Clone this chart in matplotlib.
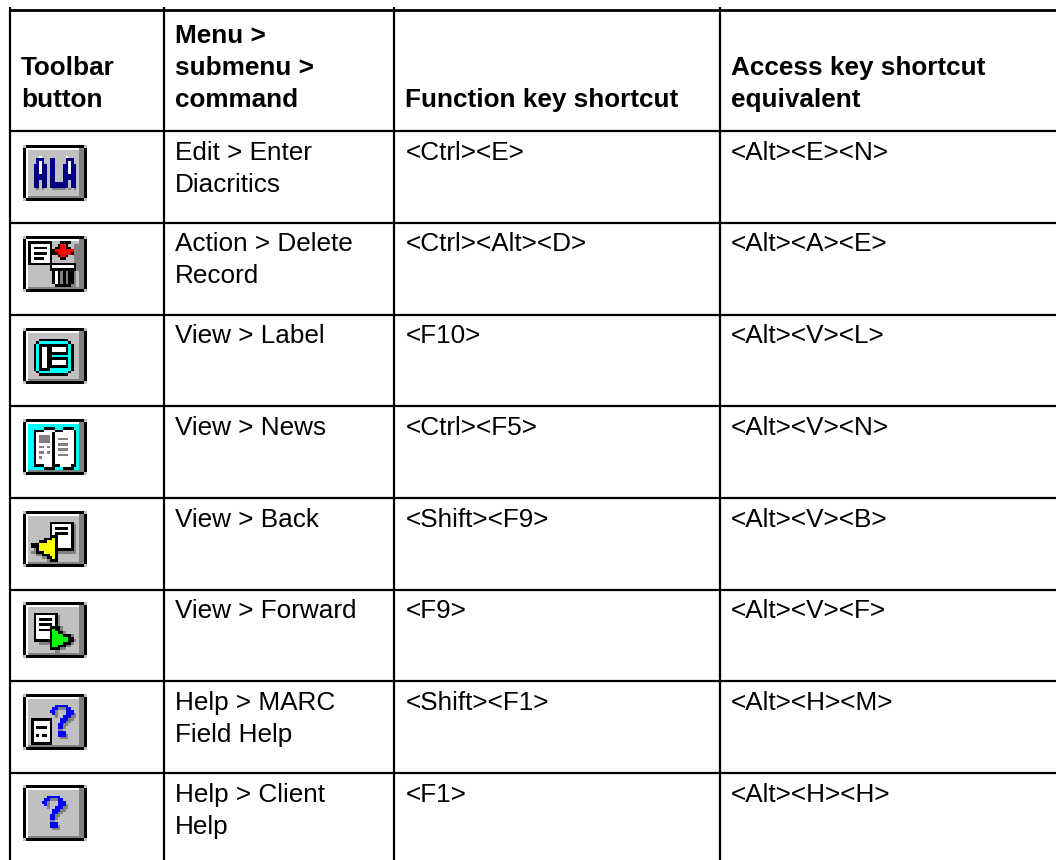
import numpy as np
import matplotlib
matplotlib.use("Agg")
import matplotlib.pyplot as plt

plt.rcParams['font.family'] = ['Liberation Sans', 'DejaVu Sans']

# table text
headers = ["Toolbar\nbutton", "Menu >\nsubmenu >\ncommand", "Function key shortcut", "Access key shortcut\nequivalent"]
menu_cmds = ["Edit > Enter\nDiacritics", "Action > Delete\nRecord", "View > Label", "View > News",
             "View > Back", "View > Forward", "Help > MARC\nField Help", "Help > Client\nHelp"]
fn_keys = ["<Ctrl><E>", "<Ctrl><Alt><D>", "<F10>", "<Ctrl><F5>", "<Shift><F9>", "<F9>", "<Shift><F1>", "<F1>"]
access_keys = ["<Alt><E><N>", "<Alt><A><E>", "<Alt><V><L>", "<Alt><V><N>",
               "<Alt><V><B>", "<Alt><V><F>", "<Alt><H><M>", "<Alt><H><H>"]

# grid lines, in pixels
col_x = [10, 164, 394.3, 720]
row_y = [9.7, 131.3, 222.7, 314.6, 406, 498, 589.5, 681, 773]

# toolbar icons, inner 19x17 pixels of a 24x21 button
palette = {'k': '#000000', 'w': '#ffffff', 'g': '#c0c0c0', 'd': '#808080', 'n': '#000080',
           'B': '#0000ff', 'r': '#ff0000', 'y': '#ffff00', 'G': '#00ff00', 'c': '#00ffff'}

icon_ala = ["", "",
            "....w.........w....",
            "...nnn..nn....nnn..",
            "...nwn..nn....nwn..",
            "..nnwnn.nn...nnwnn.",
            "..nnwnn.nn...nnwnn.",
            "..nnwnn.nn...nnwnn.",
            "..nnwnn.nn...nnwnn.",
            "..nnnnn.nn...nnnnn.",
            "..nnnnn.nn...nnnnn.",
            "..nn.nn.nn...nn.nn.",
            "..nn.nn.nnnnnnn.nn.",
            "..nn.nn.nnnnnnn.nn.",
            "...d.d...ddddd.d.d."]
icon_delete = ["kkkkkkkkk...kkkk...",
               "kwwwwwwwk..krrk..dd",
               "kwkkkkkwk.kkrrkk.dd",
               "kwwwwwwwkkrrrrrrrdd",
               "kwkkkkkwkkkrrrrrkdd",
               "kwwwwwwwk..krrk..dd",
               "kwkkkkwwk...kk...dd",
               "kwwwwwwwk........dd",
               "kkkkkkkkkkkkkkkkkkd",
               "........kwwwwwwwwkd",
               "........kkkkkkkkkkd",
               ".........kwkdkdkkd.",
               ".........kwkdkdkkd.",
               ".........kwkdkdkkd.",
               ".........kwkdkdkkd.",
               ".........kwkdkdkkd.",
               "..........kkkkkkdd."]
icon_label = ["", "",
              "....kkkkkkkkkkk....",
              "...kccccccccccck...",
              "..kckkkkkkkkkkkck..",
              "..kckwwkkwwwwwkck..",
              "..kckwwkkwwwwwkck..",
              "..kckwwkkkkkkkkck..",
              "..kckwwkkccccccck..",
              "..kckwwkkkkkkkkck..",
              "..kckwwkkwwwwwkck..",
              "..kckwwkkwwwwwkck..",
              "..kckwwkkkkkkkkck..",
              "..kckkkkcccccccck..",
              "...kccccccccccck...",
              "....kkkkkkkkkkk...."]
icon_news = ["ccccccccccccccccccc",
             "cccccckkkkccckkkkcc",
             "cckkkkwwwwkkkwwwwkc",
             "cckwwwwwwkwwwwwwwkc",
             "cckwddddwkwwwwwwwkc",
             "cckwddddwkwddddwwkc",
             "cckwddddwkwwwwwwwkc",
             "cckwwwwwwkwddddwwkc",
             "cckwddwdwkwwwwwwwkc",
             "cckwwwwwwkwddddwwkc",
             "cckwddwdwkwwwwwwwkc",
             "cckwwwwwwkwddddwwkc",
             "cckwdwwwwkwwwwwwwkc",
             "cckwwwwwwkwwwwwwwkc",
             "cckwwwwwwkwwwwwwwkc",
             "cckkkkwwwkkkwwwwkkc",
             "cccccckkkkccckkkkcc"]
icon_back = ["", "",
             "........kkkkkkkkk..",
             "........kwwwwwwwkd.",
             "........kwkkkkkwkd.",
             "........kwwwwwwwkd.",
             "........kwkkkkkwkd.",
             "........kkkwwwwwkd.",
             "......kkkykwwwwwkd.",
             "....kkkyyykwwwwwkd.",
             ".kkkyyyyyykwwwwwkd.",
             ".kkkyyyyyykwwwwwkd.",
             "..dkyyyyyykkkkkkkd.",
             ".ddkkkyyyykddddddd.",
             "...ddkkkyyk........",
             ".....ddkkyk........",
             ".......dkkk........"]
icon_forward = ["", "",
                "..kkkkkkkkk........",
                "..kwwwwwwwkd.......",
                "..kwkkkkkwkd.......",
                "..kwwwwwwwkd.......",
                "..kwkkkkkwkd.......",
                "..kwwwwwkkkkd......",
                "..kwkkkkkGkkd......",
                "..kwwwwwkGGkkd.....",
                "..kwwwwwkGGGGkkkd..",
                "..kwwwwwkGGGGGGkk..",
                "..kkkkkkkGGGGGGkkd.",
                "....ddddkGGGGkkkd..",
                "........kGGkkkdd...",
                "........kkkkdd.....",
                "..........dd......."]
icon_marc = ["", "",
             "..........BBBBB....",
             ".........BBdddBB...",
             "........BBd...BBB..",
             ".........Bd...BBBd.",
             "..........d..BBBdd.",
             ".kkkkkkkk...BBBdd..",
             ".kwwwwwwk...BBdd...",
             ".kwwwwwwk..BBdd....",
             ".kwkkkkwk..BBd.....",
             ".kwwwwwwk..dd......",
             ".kwwwwwwk..BBB.....",
             ".kwkwkkwk..BBBd....",
             ".kwwwwwwk...ddd....",
             ".kwwwwwwk..........",
             ".kkkkkkkk.........."]
icon_client = ["", "",
               ".......BBBBB.......",
               "......BBdddBB......",
               ".....BBd...BBB.....",
               "......Bd...BBBd....",
               ".......d..BBBdd....",
               ".........BBBdd.....",
               ".........BBdd......",
               "........BBdd.......",
               "........BBd........",
               "........dd.........",
               "........BBB........",
               "........BBBd.......",
               ".........ddd......."]
icons = [icon_ala, icon_delete, icon_label, icon_news, icon_back, icon_forward, icon_marc, icon_client]
icon_top = [145, 236, 328, 419, 511, 602, 694, 785]


def button_image(rows, bg='g'):
    # raised Windows button frame, then the glyph on top
    grid = np.full((21, 24), 'g', dtype='<U1')
    grid[0, 1:23] = 'k'
    grid[20, 1:23] = 'k'
    grid[1:20, 0] = 'k'
    grid[1:20, 23] = 'k'
    grid[1, 1:22] = 'w'
    grid[1:20, 1] = 'w'
    grid[1:20, 21:23] = 'd'
    grid[19, 2:23] = 'd'
    grid[2:19, 2:21] = bg
    for j, row in enumerate(rows):
        for i, ch in enumerate(row):
            if ch != '.':
                grid[j + 2, i + 2] = ch
    rgb = np.zeros((21, 24, 3))
    for ch, col in palette.items():
        rgb[grid == ch] = matplotlib.colors.to_rgb(col)
    return rgb


fig = plt.figure(figsize=(10.56, 8.60), dpi=100)
ax = fig.add_axes([0, 0, 1, 1])

# grid
ax.hlines(row_y[0], col_x[0] - 1, 1056, color='black', lw=2.0)
ax.hlines(row_y[1:], col_x[0], 1056, color='black', lw=1.6)
ax.vlines(col_x, 7, 860, color='black', lw=1.6)

# header
fs = 18.8
for x, head in zip(col_x, headers):
    lines = head.split("\n")
    for k, line in enumerate(lines):
        base = 106.7 - 32 * (len(lines) - 1 - k)
        ax.text(x + 11, base, line, fontsize=fs, fontweight='bold', va='baseline', ha='left', color='black')

# rows
for r in range(8):
    top = row_y[r + 1]
    for k, line in enumerate(menu_cmds[r].split("\n")):
        ax.text(col_x[1] + 11, top + 28.7 + 32 * k, line, fontsize=fs, va='baseline', color='black')
    ax.text(col_x[2] + 11, top + 28.7, fn_keys[r], fontsize=fs, va='baseline', color='black')
    ax.text(col_x[3] + 11, top + 28.7, access_keys[r], fontsize=fs, va='baseline', color='black')
    bg = 'c' if icons[r] is icon_news else 'g'
    y0 = icon_top[r]
    ax.imshow(button_image(icons[r], bg), extent=(23, 87, y0 + 56, y0), aspect='auto', interpolation='nearest')

ax.set_xlim(0, 1056)
ax.set_ylim(860, 0)
ax.axis('off')

fig.savefig("out.png", dpi=100, facecolor='white')
plt.close()
